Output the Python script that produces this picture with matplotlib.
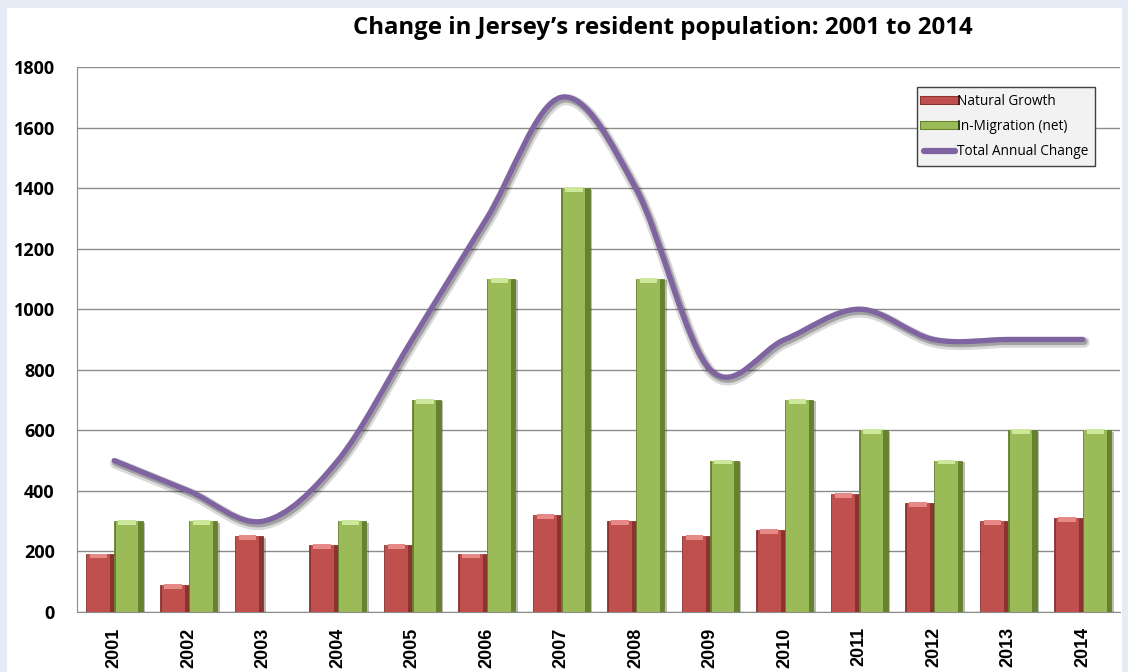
import matplotlib.pyplot as plt
import matplotlib.patheffects as pe
from matplotlib.path import Path
from matplotlib.patches import PathPatch, Rectangle
from matplotlib.lines import Line2D
import numpy as np

years = ["2001", "2002", "2003", "2004", "2005", "2006", "2007",
         "2008", "2009", "2010", "2011", "2012", "2013", "2014"]
natural = [190, 90, 250, 220, 220, 190, 320, 300, 250, 270, 390, 360, 300, 310]
migration = [300, 300, 0, 300, 700, 1100, 1400, 1100, 500, 700, 600, 500, 600, 600]
total = [500, 400, 300, 500, 900, 1300, 1700, 1400, 800, 900, 1000, 900, 900, 900]

red, red_dk, red_hi = "#C0504D", "#8A3432", "#E58A86"
grn, grn_dk, grn_hi = "#9BBB59", "#66822F", "#CDE89A"
purple = "#8064A2"

fig = plt.figure(figsize=(11.28, 6.72), dpi=100)
fig.patch.set_facecolor("#E7EBF5")
fig.patches.append(Rectangle((7 / 1128, -0.1), 1115 / 1128, 1.1 - 8 / 672,
                             transform=fig.transFigure, facecolor="white",
                             edgecolor="none", zorder=-10))

ax = fig.add_axes([77 / 1128, 1 - 612 / 672, 1043 / 1128, 545 / 672])
ax.set_facecolor("none")

x = np.arange(len(years))
w = 0.38
shadow = [pe.SimplePatchShadow(offset=(2, -1), alpha=0.3), pe.Normal()]


def draw_bars(pos, vals, face, dark, hi):
    vals = np.array(vals, dtype=float)
    ax.bar(pos, vals, w, color=dark, edgecolor=dark, linewidth=0.6,
           zorder=3, path_effects=shadow)
    ax.bar(pos - w * 0.05, vals, w * 0.8, color=face, linewidth=0, zorder=4)
    cap = np.minimum(vals, 16)
    ax.bar(pos - w * 0.05, cap, w * 0.62, bottom=vals - cap * 0.8, color=hi,
           linewidth=0, zorder=5)


draw_bars(x - w / 2, natural, red, red_dk, red_hi)
draw_bars(x + w / 2, migration, grn, grn_dk, grn_hi)

# smoothed line (Catmull-Rom style bezier like Excel's smoothing)
pts = np.column_stack([x, total]).astype(float)
ext = np.vstack([pts[0], pts, pts[-1]])
verts = [tuple(pts[0])]
codes = [Path.MOVETO]
for i in range(len(pts) - 1):
    p0, p1, p2, p3 = ext[i], ext[i + 1], ext[i + 2], ext[i + 3]
    c1 = p1 + (p2 - p0) / 6
    c2 = p2 - (p3 - p1) / 6
    verts += [tuple(c1), tuple(c2), tuple(p2)]
    codes += [Path.CURVE4] * 3
line = PathPatch(Path(verts, codes), facecolor="none", edgecolor=purple,
                 linewidth=3.8, capstyle="round", zorder=6,
                 path_effects=[pe.SimpleLineShadow(offset=(1, -2), alpha=0.15,
                                                   linewidth=8),
                               pe.SimpleLineShadow(offset=(1, -1.5), alpha=0.25,
                                                   linewidth=5),
                               pe.Normal()])
ax.add_patch(line)

handles = [
    Line2D([], [], color=red, linewidth=5,
           path_effects=[pe.Stroke(linewidth=6.5, foreground=red_dk), pe.Normal()]),
    Line2D([], [], color=grn, linewidth=5,
           path_effects=[pe.Stroke(linewidth=6.5, foreground=grn_dk), pe.Normal()]),
    Line2D([], [], color=purple, linewidth=4.5, solid_capstyle="round"),
]
labels = ["Natural Growth", "In-Migration (net)", "Total Annual Change"]

ax.set_xlim(-0.5, len(years) - 0.5)
ax.set_ylim(0, 1800)
ax.set_yticks(range(0, 1801, 200))
ax.set_yticklabels([str(v) for v in range(0, 1801, 200)],
                   fontsize=13, fontweight="bold", family="Open Sans")
ax.set_xticks(x)
ax.set_xticklabels(years, rotation=90, fontsize=13, fontweight="bold",
                   family="Liberation Sans")
ax.tick_params(axis="y", length=0, pad=16)
ax.tick_params(axis="x", length=0, pad=11)
ax.grid(axis="y", color="#8C8C8C", linewidth=1)
ax.set_axisbelow(True)
for s in ["top", "right"]:
    ax.spines[s].set_visible(False)
ax.spines["left"].set_color("#8C8C8C")
ax.spines["bottom"].set_color("#8C8C8C")

leg = ax.legend(handles, labels, loc="upper right",
                bbox_to_anchor=(1018 / 1043, 0.963),
                prop={"family": "Open Sans", "size": 9.8}, frameon=True,
                fancybox=False, edgecolor="#404040", facecolor="#F2F2F2",
                framealpha=1, handlelength=2.3, handletextpad=0.1,
                labelspacing=0.75, borderpad=0.5, borderaxespad=0)
leg.get_frame().set_linewidth(1)
leg.set_zorder(10)

fig.text(663 / 1128, 1 - 28 / 672,
         "Change in Jersey\u2019s resident population: 2001 to 2014",
         ha="center", va="center", fontsize=17.3, fontweight="bold",
         family="Open Sans")

fig.savefig("out.png", dpi=100, facecolor=fig.get_facecolor())
